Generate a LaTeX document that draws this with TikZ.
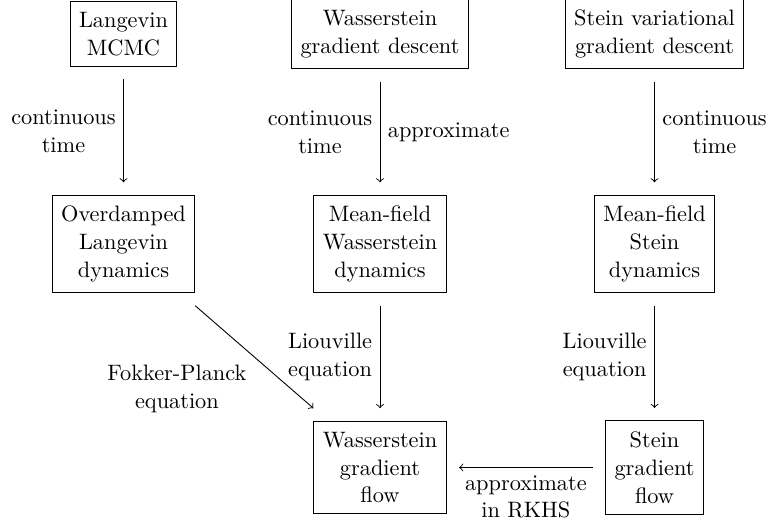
\documentclass[tikz,border=0pt]{standalone}
\usepackage{amsmath, amssymb, amsfonts}
\usepackage{tikz}

\begin{document}
\begin{tikzpicture}[every node/.style={font=\fontsize{10pt}{12.5pt}\selectfont}, box/.style={draw, align=center, inner xsep=4pt, inner ysep=4.8pt}, conn/.style={->, shorten <=5.6pt, shorten >=5.6pt}]
\useasboundingbox (0,0) rectangle (12.094,-8.236);
\node[box] (lmcmc) at (1.945,-0.535) {Langevin\\MCMC};
\node[box] (wgd) at (5.984,-0.535) {Wasserstein\\gradient descent};
\node[box] (svgd) at (10.307,-0.535) {Stein variational\\gradient descent};

\node[box] (odl) at (1.945,-3.843) {Overdamped\\Langevin\\dynamics};
\node[box] (mwd) at (5.984,-3.843) {Mean-field\\Wasserstein\\dynamics};
\node[box] (msd) at (10.307,-3.843) {Mean-field\\Stein\\dynamics};

\node[box] (wgf) at (5.984,-7.362) {Wasserstein\\gradient\\flow};
\node[box] (sgf) at (10.307,-7.362) {Stein\\gradient\\flow};

\draw[conn] (lmcmc) -- node[left, align=center] {continuous\\time} (odl);
\draw[conn] (wgd) -- node[left, align=center] {continuous\\time} node[right] {approximate} (mwd);
\draw[conn] (svgd) -- node[right, align=center] {continuous\\time} (msd);

\draw[->] ([yshift=-5.6pt]odl.south east) -- node[below left, align=center] {Fokker-Planck\\equation} ([yshift=5.6pt]wgf.north west);
\draw[conn] (mwd) -- node[left, align=center] {Liouville\\equation} (wgf);
\draw[conn] (msd) -- node[left, align=center] {Liouville\\equation} (sgf);
\draw[conn] (sgf) -- node[below, align=center] {approximate\\in RKHS} (wgf);

\end{tikzpicture}
\end{document}
